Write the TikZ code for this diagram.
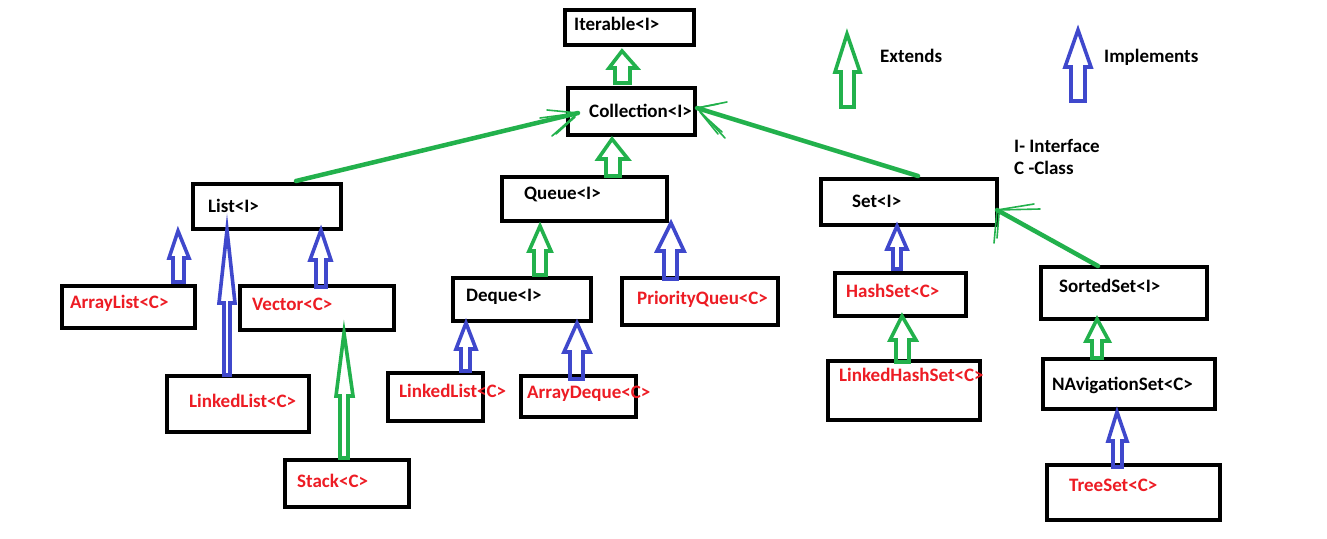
\documentclass[tikz,border=0pt]{standalone}
\usepackage{fontspec}
\setmainfont{Carlito}
\definecolor{pgreen}{RGB}{34,177,76}
\definecolor{pblue}{RGB}{63,72,204}
\definecolor{pred}{RGB}{237,28,36}
\newcommand\blkarrow[9]{%
  \draw[#1,line width=3.6pt,line join=miter] (#2,#3) -- (#5,#6) -- (#8,#6) -- (#8,#9) -- (#7,#9) -- (#7,#6) -- (#4,#6) -- cycle;}
\tikzset{
  boxln/.style={draw=black,line width=4pt},
  lbl/.style={font=\fontsize{19}{22}\selectfont\bfseries,inner sep=0pt,anchor=base west},
  cls/.style={lbl,text=pred},
  ifc/.style={lbl,text=black},
  gline/.style={draw=pgreen,line width=4.5pt,line cap=round},
  gbarb/.style={draw=pgreen,line width=1.6pt,line cap=round}
}
\begin{document}
\begin{tikzpicture}[x=1pt,y=-1pt]
\useasboundingbox[fill=white] (0,0) rectangle (1327,538);
% boxes
\draw[boxln] (565,10) rectangle (694,45);
\draw[boxln] (568,88) rectangle (695,135);
\draw[boxln] (502,177) rectangle (667,221);
\draw[boxln] (821,179) rectangle (997,225);
\draw[boxln] (193,184) rectangle (341,229);
\draw[boxln] (62,286) rectangle (195,328);
\draw[boxln] (240,286) rectangle (394,330);
\draw[boxln] (167,376) rectangle (309,432);
\draw[boxln] (285,460) rectangle (409,507);
\draw[boxln] (453,278) rectangle (591,321);
\draw[boxln] (622,278) rectangle (778,325);
\draw[boxln] (388,373) rectangle (483,421);
\draw[boxln] (521,376) rectangle (636,417);
\draw[boxln] (835,273) rectangle (966,316);
\draw[boxln] (828,361) rectangle (980,420);
\draw[boxln] (1041,267) rectangle (1207,319);
\draw[boxln] (1043,359) rectangle (1215,409);
\draw[boxln] (1047,465) rectangle (1220,520);
% labels
\node[ifc] (iter) at (574,30) {Iterable<I>};
\node[ifc] (coll) at (589,117) {Collection<I>};
\node[ifc] (queue) at (524,199) {Queue<I>};
\node[ifc] (set) at (852,207) {Set<I>};
\node[ifc] (list) at (208,212) {List<I>};
\node[cls] (alist) at (70,308) {ArrayList<C>};
\node[cls] (vector) at (252,310) {Vector<C>};
\node[cls] (llist) at (189,407) {LinkedList<C>};
\node[cls] (stack) at (297,487) {Stack<C>};
\node[ifc] (deque) at (466,301) {Deque<I>};
\node[cls] (pq) at (637,304) {PriorityQueu<C>};
\node[cls] (llist2) at (399,397) {LinkedList<C>};
\node[cls] (adeque) at (527,398) {ArrayDeque<C>};
\node[cls] (hset) at (846,297) {HashSet<C>};
\node[cls] (lhset) at (839,381) {LinkedHashSet<C>};
\node[ifc] (sset) at (1059,292) {SortedSet<I>};
\node[ifc] (nset) at (1052,390) {NAvigationSet<C>};
\node[cls] (tset) at (1069,491) {TreeSet<C>};
\node[ifc] (ext) at (880,62) {Extends};
\node[ifc] (impl) at (1104,62) {Implements};
\node[ifc] (ileg) at (1014,152) {I- Interface};
\node[ifc] (cleg) at (1014,174) {C -Class};
% hollow block arrows
\blkarrow{pgreen}{622}{51}{609}{637}{68}{615}{630}{83}
\blkarrow{pgreen}{612}{139}{598}{628}{159}{606}{620}{176}
\blkarrow{pgreen}{847}{34}{835}{860}{72}{841}{854}{107}
\blkarrow{pblue}{1078}{30}{1065}{1091}{67}{1071}{1085}{101}
\blkarrow{pblue}{178}{231}{169}{189}{258}{173}{184}{282}
\blkarrow{pblue}{227}{230}{219}{235}{303}{224}{230}{375}
\blkarrow{pblue}{321}{230}{310}{331}{260}{316}{326}{287}
\blkarrow{pgreen}{344}{333}{336}{353}{396}{340}{348}{458}
\blkarrow{pgreen}{540}{226}{529}{551}{251}{534}{546}{275}
\blkarrow{pblue}{671}{223}{657}{684}{251}{664}{677}{279}
\blkarrow{pblue}{897}{226}{887}{907}{249}{893}{901}{269}
\blkarrow{pblue}{466}{323}{456}{476}{349}{461}{470}{371}
\blkarrow{pblue}{577}{323}{564}{590}{352}{570}{583}{379}
\blkarrow{pgreen}{902}{316}{890}{916}{340}{896}{909}{362}
\blkarrow{pgreen}{1097}{319}{1086}{1109}{341}{1092}{1102}{358}
\blkarrow{pblue}{1117}{412}{1108}{1127}{441}{1113}{1122}{467}
% freehand green arrows
\draw[gline] (296,181) -- (578,113);
\draw[gbarb] (578,113) -- (547,110);
\draw[gbarb] (578,113) -- (540,118);
\draw[gbarb] (578,113) -- (552,136);
\draw[gbarb] (575,117) -- (556,134);
\draw[gline] (918,176) -- (697,108);
\draw[gbarb] (697,108) -- (727,102);
\draw[gbarb] (697,108) -- (718,104);
\draw[gbarb] (697,108) -- (725,138);
\draw[gbarb] (700,112) -- (718,134);
\draw[gbarb] (702,114) -- (722,132);
\draw[gline] (1098,266) -- (997,210);
\draw[gbarb] (997,210) -- (1040,209);
\draw[gbarb] (997,210) -- (1034,204);
\draw[gbarb] (997,210) -- (994,243);
\draw[gbarb] (999,214) -- (997,238);
\end{tikzpicture}
\end{document}
